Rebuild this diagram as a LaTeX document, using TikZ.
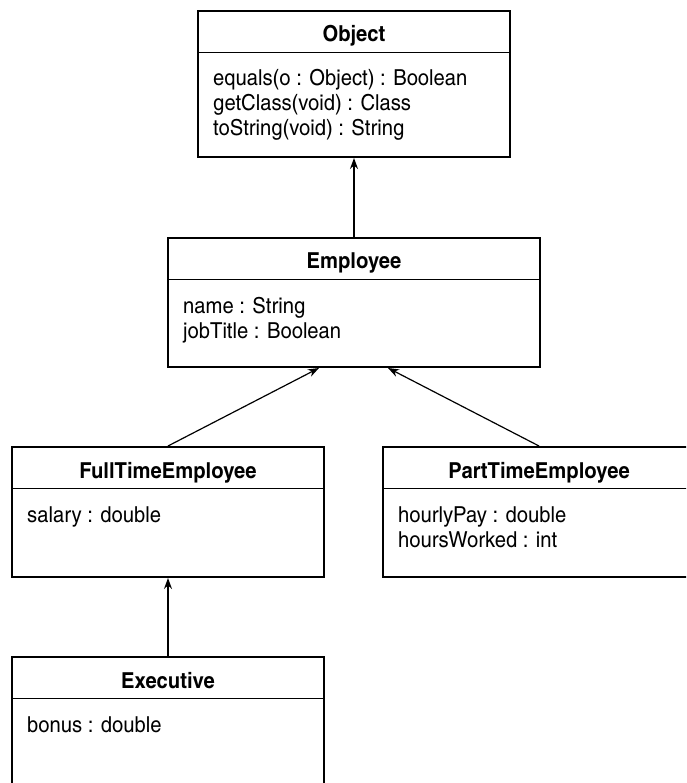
\documentclass[tikz,border=0pt]{standalone}
\usepackage{fontspec}
\setmainfont{TeX Gyre Heros Cn}[FakeStretch=1.12]
\usepackage{tikz}
\usetikzlibrary{arrows.meta,positioning}

\tikzset{
  classbox/.style={draw, line width=2pt, anchor=north west, inner sep=0pt,
    minimum width=312pt, minimum height=146pt},
  classname/.style={font=\fontsize{22}{25}\selectfont\bfseries, anchor=base, inner sep=0pt},
  members/.style={font=\fontsize{22}{25}\selectfont, anchor=base west, align=left, inner sep=0pt},
  divider/.style={line width=1pt},
  inherit/.style={-{Stealth[length=11pt,width=8pt]}, line width=1.2pt},
}

\begin{document}
\begin{tikzpicture}[x=1pt,y=-1pt]
  \useasboundingbox (0,0) rectangle (686,783);
  \clip (0,0) rectangle (686,783);

  % class boxes
  \node[classbox] (object) at (197,10) {};
  \node[classbox, minimum width=372pt, minimum height=129pt] (employee) at (167,237) {};
  \node[classbox, minimum height=130pt] (fulltime) at (11,446) {};
  \node[classbox, minimum height=130pt] (parttime) at (382,446) {};
  \node[classbox] (executive) at (11,656) {};

  % headers
  \foreach \c/\t in {object/Object, employee/Employee, fulltime/FullTimeEmployee,
                     parttime/PartTimeEmployee, executive/Executive} {
    \node[classname] (\c-name) at ([yshift=-32pt]\c.north) {\t};
    \draw[divider] ([yshift=-42.5pt]\c.north west) -- ([yshift=-42.5pt]\c.north east);
  }

  % attributes and operations (base = last line)
  \node[members] (object-ops) at ([xshift=16pt,yshift=-126pt]object.north west)
    {equals(o : Object) : Boolean\\getClass(void) : Class\\toString(void) : String};
  \node[members] (employee-attr) at ([xshift=16pt,yshift=-101pt]employee.north west)
    {name : String\\jobTitle : Boolean};
  \node[members] (fulltime-attr) at ([xshift=16pt,yshift=-76pt]fulltime.north west)
    {salary : double};
  \node[members] (parttime-attr) at ([xshift=16pt,yshift=-101pt]parttime.north west)
    {hourlyPay : double\\hoursWorked : int};
  \node[members] (executive-attr) at ([xshift=16pt,yshift=-76pt]executive.north west)
    {bonus : double};

  % generalisation
  \draw[inherit] (employee.north) -- (object.south);
  \draw[inherit] (fulltime.north) -- ([xshift=-35pt]employee.south);
  \draw[inherit] (parttime.north) -- ([xshift=34pt]employee.south);
  \draw[inherit] (executive.north) -- (fulltime.south);
\end{tikzpicture}
\end{document}
